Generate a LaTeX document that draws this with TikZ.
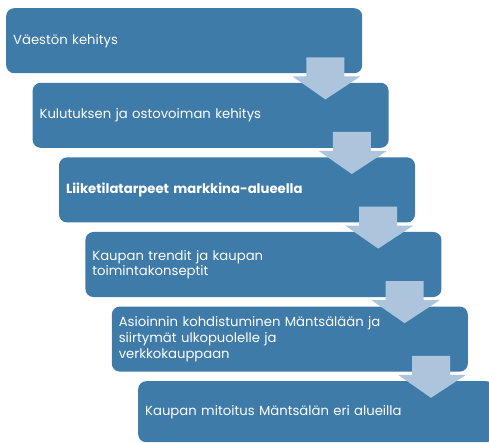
\documentclass[tikz,border=0pt]{standalone}
\usepackage{fontspec}
\setmainfont{Poppins}
\usetikzlibrary{calc}
\definecolor{stepblue}{RGB}{62,123,168}
\definecolor{arrowblue}{RGB}{172,197,220}
\tikzset{
  stepbox/.style={fill=stepblue,text=white,rounded corners=8pt,anchor=north west,
    minimum width=356pt,minimum height=65pt,text width=342pt,inner xsep=7pt,
    align=left,font=\fontsize{13.2}{15.6}\selectfont},
  downarrow/.style={fill=arrowblue},
}
\begin{document}
\begin{tikzpicture}[x=1pt,y=1pt]
  \useasboundingbox (0,0) rectangle (489,-443);
  % the steps
  \foreach \i/\t in {1/{Väestön kehitys},
                     2/{Kulutuksen ja ostovoiman kehitys},
                     3/{\textbf{Liiketilatarpeet markkina-alueella}},
                     4/{Kaupan trendit ja kaupan\\toimintakonseptit},
                     5/{Asioinnin kohdistuminen Mäntsälään ja\\siirtymät ulkopuolelle ja\\verkkokauppaan}}{
    \node[stepbox] (b\i) at ({6+26.4*(\i-1)},{-8-74.6*(\i-1)}) {\t};
  }
  \node[stepbox,minimum height=61pt] (b6) at (138,-381) {Kaupan mitoitus Mäntsälän eri alueilla};
  % arrows between the steps
  \foreach \i in {1,...,5}{
    \fill[downarrow] ($(b\i.south east)+(-56,16)$) -- ++(38,0) -- ++(0,-19) -- ++(16,0)
      -- ++(-35,-23) -- ++(-33,23) -- ++(14,0) -- cycle;
  }
\end{tikzpicture}
\end{document}
